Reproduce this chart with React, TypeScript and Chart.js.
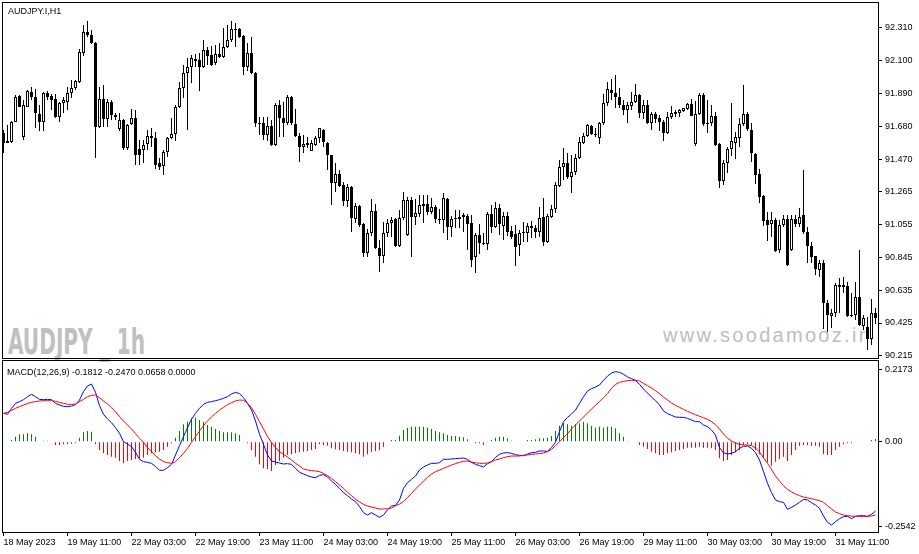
import React, { useEffect, useRef } from "react";
import { Chart, registerables } from "chart.js";

Chart.register(...registerables);

// ---- AUDJPY.I H1 candles (bar 0 = 18 May 2023 19:00) ----
const opens = [
  91.637, 91.573, 91.579, 91.707, 91.873, 91.611, 91.803, 91.898, 91.866, 91.758,
  91.707, 91.892, 91.873, 91.854, 91.739, 91.828, 91.834, 91.892, 91.924, 91.962,
  92.147, 92.281, 92.262, 92.211, 91.675, 91.854, 91.726, 91.834, 91.752, 91.662,
  91.720, 91.541, 91.694, 91.733, 91.535, 91.528, 91.567, 91.618, 91.605, 91.446,
  91.426, 91.516, 91.605, 91.630, 91.803, 91.924, 92.020, 92.058, 92.109, 92.102,
  92.058, 92.166, 92.134, 92.083, 92.141, 92.122, 92.185, 92.230, 92.294, 92.300,
  92.255, 92.058, 92.147, 92.020, 91.694, 91.701, 91.624, 91.681, 91.560, 91.815,
  91.733, 91.701, 91.866, 91.694, 91.618, 91.547, 91.573, 91.522, 91.560, 91.605,
  91.656, 91.573, 91.496, 91.318, 91.375, 91.305, 91.203, 91.292, 91.088, 91.171,
  91.056, 90.871, 90.999, 91.139, 90.903, 90.852, 90.999, 91.063, 91.088, 90.916,
  91.095, 90.986, 91.209, 91.101, 91.120, 91.171, 91.184, 91.133, 91.165, 91.088,
  91.082, 91.216, 91.037, 91.088, 91.088, 91.101, 91.107, 91.063, 90.846, 90.986,
  90.935, 90.929, 91.120, 91.037, 91.158, 91.044, 91.107, 91.012, 90.993, 90.923,
  90.999, 90.999, 91.044, 91.031, 91.005, 91.101, 90.942, 91.101, 91.152, 91.299,
  91.420, 91.446, 91.356, 91.388, 91.477, 91.573, 91.618, 91.681, 91.630, 91.605,
  91.701, 91.828, 91.911, 91.892, 91.866, 91.815, 91.783, 91.809, 91.834, 91.879,
  91.764, 91.815, 91.701, 91.758, 91.733, 91.707, 91.637, 91.739, 91.758, 91.764,
  91.777, 91.790, 91.822, 91.567, 91.758, 91.879, 91.701, 91.701, 91.745, 91.567,
  91.330, 91.446, 91.535, 91.573, 91.605, 91.694, 91.758, 91.656, 91.503, 91.375,
  91.235, 91.082, 91.056, 91.082, 90.891, 91.050, 91.088, 90.891, 91.088, 91.056,
  91.114, 91.005, 90.916, 90.852, 90.763, 90.808, 90.553, 90.470, 90.489, 90.667,
  90.667, 90.661, 90.476, 90.476, 90.591, 90.406, 90.399, 90.323, 90.489,
];
const highs = [
  91.656, 91.688, 91.713, 91.879, 91.879, 91.847, 91.911, 91.930, 91.917, 91.815,
  91.898, 91.905, 91.885, 91.885, 91.834, 91.866, 91.930, 91.975, 91.975, 92.172,
  92.326, 92.351, 92.294, 92.217, 91.930, 91.943, 91.854, 91.847, 91.764, 91.764,
  91.726, 91.694, 91.790, 91.783, 91.592, 91.592, 91.656, 91.669, 91.643, 91.477,
  91.528, 91.611, 91.733, 91.815, 91.962, 92.070, 92.115, 92.134, 92.141, 92.147,
  92.230, 92.185, 92.192, 92.198, 92.211, 92.306, 92.326, 92.351, 92.338, 92.306,
  92.262, 92.211, 92.249, 92.026, 91.739, 91.739, 91.739, 91.720, 91.828, 91.847,
  91.834, 91.879, 91.873, 91.790, 91.637, 91.624, 91.611, 91.592, 91.618, 91.669,
  91.662, 91.579, 91.496, 91.446, 91.401, 91.324, 91.311, 91.299, 91.190, 91.178,
  91.063, 91.024, 91.216, 91.184, 90.954, 91.069, 91.088, 91.101, 91.095, 91.146,
  91.260, 91.228, 91.228, 91.216, 91.241, 91.241, 91.241, 91.222, 91.178, 91.152,
  91.254, 91.222, 91.107, 91.146, 91.146, 91.127, 91.120, 91.114, 90.999, 91.056,
  90.999, 91.133, 91.178, 91.197, 91.184, 91.133, 91.133, 91.044, 91.050, 91.018,
  91.069, 91.063, 91.075, 91.050, 91.165, 91.222, 91.120, 91.178, 91.324, 91.465,
  91.541, 91.509, 91.496, 91.503, 91.611, 91.637, 91.694, 91.688, 91.669, 91.707,
  91.885, 91.962, 91.981, 92.007, 91.924, 91.847, 91.834, 91.898, 91.949, 91.885,
  91.847, 91.847, 91.771, 91.771, 91.752, 91.720, 91.771, 91.809, 91.783, 91.790,
  91.796, 91.828, 91.854, 91.841, 91.892, 91.892, 91.847, 91.815, 91.771, 91.573,
  91.465, 91.547, 91.828, 91.643, 91.733, 91.943, 91.771, 91.701, 91.509, 91.407,
  91.241, 91.133, 91.133, 91.095, 91.082, 91.114, 91.114, 91.114, 91.114, 91.158,
  91.401, 91.037, 90.942, 90.852, 90.827, 90.827, 90.572, 90.514, 90.680, 90.712,
  90.718, 90.687, 90.616, 90.687, 90.891, 90.476, 90.463, 90.578, 90.521,
];
const lows = [
  91.509, 91.573, 91.573, 91.707, 91.803, 91.592, 91.803, 91.847, 91.669, 91.650,
  91.650, 91.847, 91.783, 91.733, 91.707, 91.764, 91.783, 91.860, 91.911, 91.956,
  92.128, 92.249, 92.204, 91.477, 91.669, 91.675, 91.675, 91.720, 91.720, 91.650,
  91.528, 91.528, 91.688, 91.433, 91.433, 91.446, 91.528, 91.547, 91.407, 91.401,
  91.369, 91.484, 91.598, 91.586, 91.796, 91.860, 91.656, 91.956, 92.058, 91.905,
  92.052, 92.070, 92.064, 92.070, 92.115, 92.115, 92.179, 92.217, 92.185, 92.243,
  92.007, 92.032, 92.013, 91.675, 91.624, 91.592, 91.586, 91.554, 91.554, 91.611,
  91.611, 91.688, 91.688, 91.611, 91.452, 91.509, 91.541, 91.522, 91.554, 91.573,
  91.547, 91.401, 91.178, 91.260, 91.292, 91.171, 91.165, 91.005, 91.063, 91.037,
  90.846, 90.846, 90.980, 90.897, 90.750, 90.808, 90.973, 90.973, 90.910, 90.910,
  91.082, 90.980, 90.846, 91.050, 91.101, 91.063, 91.114, 91.120, 91.063, 91.056,
  90.999, 90.954, 90.973, 91.031, 91.031, 91.005, 90.891, 90.782, 90.744, 90.865,
  90.923, 90.891, 90.999, 91.031, 90.986, 90.954, 90.980, 90.961, 90.789, 90.852,
  90.942, 90.942, 90.967, 90.967, 90.973, 90.916, 90.935, 91.095, 91.127, 91.292,
  91.337, 91.343, 91.254, 91.369, 91.471, 91.567, 91.611, 91.624, 91.611, 91.567,
  91.688, 91.809, 91.847, 91.796, 91.796, 91.752, 91.701, 91.783, 91.828, 91.733,
  91.726, 91.694, 91.656, 91.701, 91.650, 91.586, 91.630, 91.726, 91.739, 91.739,
  91.771, 91.783, 91.745, 91.554, 91.752, 91.681, 91.637, 91.681, 91.554, 91.286,
  91.305, 91.382, 91.490, 91.471, 91.547, 91.681, 91.650, 91.452, 91.311, 91.190,
  91.044, 90.948, 90.973, 90.878, 90.871, 91.037, 90.789, 90.884, 91.037, 91.037,
  90.993, 90.808, 90.808, 90.731, 90.718, 90.387, 90.368, 90.393, 90.463, 90.489,
  90.616, 90.463, 90.463, 90.444, 90.406, 90.380, 90.253, 90.285, 90.419,
];
const closes = [
  91.573, 91.586, 91.707, 91.866, 91.803, 91.815, 91.905, 91.866, 91.764, 91.707,
  91.892, 91.866, 91.847, 91.739, 91.828, 91.847, 91.892, 91.924, 91.968, 92.153,
  92.281, 92.262, 92.211, 91.675, 91.854, 91.726, 91.834, 91.752, 91.739, 91.720,
  91.541, 91.688, 91.733, 91.496, 91.496, 91.560, 91.618, 91.605, 91.433, 91.420,
  91.516, 91.605, 91.630, 91.803, 91.924, 92.020, 92.058, 92.115, 92.096, 92.058,
  92.166, 92.128, 92.070, 92.141, 92.122, 92.185, 92.230, 92.300, 92.300, 92.249,
  92.058, 92.147, 92.020, 91.701, 91.701, 91.624, 91.681, 91.560, 91.815, 91.733,
  91.701, 91.866, 91.701, 91.618, 91.547, 91.567, 91.560, 91.573, 91.605, 91.669,
  91.579, 91.496, 91.318, 91.375, 91.299, 91.203, 91.292, 91.095, 91.171, 91.050,
  90.871, 90.999, 91.139, 90.903, 90.852, 90.999, 91.063, 91.082, 90.916, 91.095,
  91.209, 91.209, 91.101, 91.127, 91.178, 91.184, 91.133, 91.165, 91.088, 91.082,
  91.222, 91.037, 91.088, 91.095, 91.101, 91.114, 91.056, 90.827, 90.986, 90.935,
  90.929, 91.120, 91.037, 91.158, 91.056, 91.107, 91.005, 90.973, 90.910, 90.999,
  91.005, 91.044, 91.031, 91.005, 91.095, 90.942, 91.107, 91.152, 91.305, 91.420,
  91.446, 91.356, 91.388, 91.477, 91.579, 91.618, 91.688, 91.630, 91.624, 91.701,
  91.828, 91.917, 91.892, 91.866, 91.815, 91.783, 91.815, 91.834, 91.879, 91.764,
  91.815, 91.701, 91.758, 91.726, 91.707, 91.637, 91.739, 91.764, 91.771, 91.783,
  91.796, 91.822, 91.745, 91.758, 91.879, 91.694, 91.694, 91.745, 91.560, 91.330,
  91.446, 91.535, 91.586, 91.611, 91.694, 91.758, 91.662, 91.509, 91.369, 91.228,
  91.075, 91.050, 91.082, 90.884, 91.050, 91.088, 90.795, 91.088, 91.056, 91.101,
  91.005, 90.916, 90.846, 90.769, 90.808, 90.553, 90.476, 90.489, 90.667, 90.655,
  90.655, 90.470, 90.470, 90.591, 90.412, 90.457, 90.323, 90.489, 90.457,
];

// ---- MACD(12,26,9) ----
const macdMain = [
  0.085, 0.082, 0.100, 0.115, 0.120, 0.126, 0.135, 0.142, 0.135, 0.127,
  0.126, 0.127, 0.126, 0.115, 0.110, 0.106, 0.105, 0.107, 0.111, 0.125,
  0.150, 0.167, 0.173, 0.148, 0.108, 0.082, 0.068, 0.057, 0.042, 0.025,
  0.000, -0.007, -0.015, -0.032, -0.053, -0.060, -0.062, -0.065, -0.074, -0.086,
  -0.086, -0.078, -0.068, -0.040, -0.012, 0.015, 0.042, 0.067, 0.085, 0.100,
  0.112, 0.118, 0.120, 0.123, 0.126, 0.130, 0.135, 0.143, 0.148, 0.144,
  0.132, 0.115, 0.095, 0.062, 0.022, -0.008, -0.040, -0.058, -0.061, -0.064,
  -0.067, -0.066, -0.068, -0.080, -0.092, -0.097, -0.102, -0.106, -0.108, -0.101,
  -0.099, -0.106, -0.118, -0.128, -0.140, -0.153, -0.162, -0.172, -0.180, -0.195,
  -0.213, -0.220, -0.213, -0.220, -0.227, -0.220, -0.204, -0.193, -0.191, -0.175,
  -0.140, -0.123, -0.113, -0.103, -0.085, -0.076, -0.070, -0.065, -0.065, -0.063,
  -0.053, -0.053, -0.052, -0.051, -0.050, -0.049, -0.053, -0.062, -0.068, -0.072,
  -0.076, -0.066, -0.060, -0.047, -0.038, -0.034, -0.033, -0.035, -0.039, -0.041,
  -0.042, -0.037, -0.033, -0.032, -0.028, -0.028, -0.029, -0.017, -0.002, 0.030,
  0.060, 0.073, 0.083, 0.095, 0.115, 0.135, 0.152, 0.159, 0.164, 0.170,
  0.184, 0.197, 0.206, 0.210, 0.208, 0.202, 0.194, 0.189, 0.184, 0.172,
  0.158, 0.146, 0.134, 0.123, 0.110, 0.092, 0.084, 0.079, 0.074, 0.073,
  0.073, 0.070, 0.065, 0.060, 0.060, 0.050, 0.045, 0.035, 0.020, -0.018,
  -0.033, -0.037, -0.035, -0.030, -0.020, -0.014, -0.013, -0.020, -0.033, -0.055,
  -0.090, -0.125, -0.153, -0.175, -0.180, -0.182, -0.203, -0.197, -0.190, -0.182,
  -0.173, -0.175, -0.183, -0.190, -0.200, -0.223, -0.242, -0.250, -0.240, -0.231,
  -0.225, -0.224, -0.231, -0.224, -0.222, -0.222, -0.224, -0.218, -0.208,
];
const macdSignal = [
  0.085, 0.088, 0.094, 0.100, 0.105, 0.110, 0.115, 0.118, 0.120, 0.122,
  0.123, 0.123, 0.123, 0.121, 0.118, 0.115, 0.112, 0.112, 0.113, 0.120,
  0.127, 0.135, 0.139, 0.140, 0.132, 0.122, 0.113, 0.102, 0.090, 0.075,
  0.062, 0.050, 0.038, 0.024, 0.010, -0.002, -0.018, -0.030, -0.042, -0.052,
  -0.060, -0.063, -0.065, -0.060, -0.048, -0.035, -0.020, -0.002, 0.015, 0.032,
  0.048, 0.062, 0.074, 0.085, 0.095, 0.103, 0.111, 0.117, 0.122, 0.125,
  0.124, 0.115, 0.102, 0.082, 0.060, 0.038, 0.015, -0.002, -0.018, -0.030,
  -0.038, -0.046, -0.055, -0.065, -0.073, -0.082, -0.085, -0.087, -0.088, -0.090,
  -0.095, -0.102, -0.110, -0.120, -0.130, -0.140, -0.152, -0.162, -0.172, -0.181,
  -0.188, -0.193, -0.196, -0.199, -0.202, -0.202, -0.201, -0.199, -0.192, -0.187,
  -0.180, -0.168, -0.155, -0.142, -0.130, -0.118, -0.107, -0.097, -0.090, -0.085,
  -0.080, -0.075, -0.070, -0.066, -0.062, -0.059, -0.058, -0.061, -0.063, -0.065,
  -0.065, -0.064, -0.060, -0.055, -0.052, -0.048, -0.045, -0.043, -0.043, -0.043,
  -0.041, -0.040, -0.038, -0.037, -0.036, -0.034, -0.030, -0.023, -0.012, 0.000,
  0.012, 0.024, 0.038, 0.050, 0.062, 0.074, 0.086, 0.098, 0.109, 0.120,
  0.132, 0.144, 0.160, 0.172, 0.178, 0.181, 0.183, 0.184, 0.184, 0.182,
  0.175, 0.168, 0.161, 0.153, 0.144, 0.134, 0.125, 0.116, 0.109, 0.103,
  0.097, 0.091, 0.086, 0.081, 0.076, 0.072, 0.067, 0.060, 0.051, 0.038,
  0.023, 0.010, 0.002, -0.004, -0.008, -0.010, -0.010, -0.012, -0.019, -0.031,
  -0.048, -0.065, -0.083, -0.103, -0.118, -0.132, -0.143, -0.151, -0.157, -0.162,
  -0.166, -0.169, -0.171, -0.174, -0.177, -0.182, -0.192, -0.202, -0.211, -0.216,
  -0.220, -0.222, -0.223, -0.224, -0.224, -0.224, -0.224, -0.223, -0.220,
];
const macdHist = [
  -0.002, -0.002, 0.005, 0.015, 0.022, 0.022, 0.025, 0.022, 0.015, 0.000,
  0.003, 0.003, 0.000, -0.010, -0.010, -0.008, -0.008, -0.006, -0.004, 0.012,
  0.028, 0.032, 0.030, -0.008, -0.025, -0.035, -0.040, -0.045, -0.048, -0.058,
  -0.065, -0.058, -0.055, -0.052, -0.050, -0.048, -0.040, -0.035, -0.032, -0.030,
  -0.025, -0.015, -0.005, 0.012, 0.032, 0.052, 0.060, 0.070, 0.072, 0.065,
  0.060, 0.050, 0.045, 0.038, 0.032, 0.028, 0.028, 0.028, 0.025, 0.020,
  0.000, -0.005, -0.025, -0.045, -0.068, -0.080, -0.082, -0.088, -0.070, -0.058,
  -0.048, -0.040, -0.038, -0.035, -0.032, -0.030, -0.028, -0.025, -0.022, -0.008,
  -0.010, -0.012, -0.020, -0.023, -0.025, -0.028, -0.030, -0.032, -0.035, -0.038,
  -0.045, -0.038, -0.030, -0.028, -0.026, -0.015, -0.002, 0.005, 0.005, 0.018,
  0.035, 0.042, 0.045, 0.045, 0.045, 0.045, 0.042, 0.038, 0.032, 0.028,
  0.025, 0.020, 0.018, 0.017, 0.015, 0.013, 0.007, -0.002, -0.005, -0.005,
  -0.010, 0.002, 0.005, 0.012, 0.015, 0.015, 0.010, 0.003, 0.000, 0.000,
  0.000, 0.005, 0.005, 0.007, 0.010, 0.010, 0.012, 0.017, 0.032, 0.048,
  0.055, 0.052, 0.048, 0.052, 0.055, 0.060, 0.055, 0.047, 0.042, 0.045,
  0.042, 0.045, 0.045, 0.040, 0.025, 0.015, 0.002, 0.000, 0.000, -0.010,
  -0.015, -0.022, -0.030, -0.035, -0.040, -0.040, -0.035, -0.032, -0.028, -0.025,
  -0.022, -0.018, -0.018, -0.018, -0.015, -0.018, -0.018, -0.020, -0.025, -0.050,
  -0.058, -0.055, -0.040, -0.032, -0.025, -0.010, -0.008, -0.010, -0.025, -0.038,
  -0.050, -0.062, -0.072, -0.060, -0.052, -0.045, -0.058, -0.040, -0.025, -0.012,
  -0.010, -0.010, -0.012, -0.012, -0.015, -0.038, -0.040, -0.040, -0.025, -0.015,
  -0.008, -0.005, -0.005, 0.000, -0.002, 0.000, 0.000, 0.005, 0.008,
];

// ---- axis labels ----
const timeLabels = [
  "18 May 2023", "19 May 11:00", "22 May 03:00", "22 May 19:00", "23 May 11:00",
  "24 May 03:00", "24 May 19:00", "25 May 11:00", "26 May 03:00", "26 May 19:00",
  "29 May 11:00", "30 May 03:00", "30 May 19:00", "31 May 11:00",
];
const LABEL_STEP = 16;
const priceTicks = [92.31, 92.1, 91.89, 91.68, 91.47, 91.265, 91.055, 90.845, 90.635, 90.425, 90.215];
const macdTicks = [0.2173, 0, -0.2542];
const macdTickLabels = ["0.2173", "0.00", "-0.2542"];

const X_MIN = -0.375;
const X_MAX = 218.875;
const FONT = "'Liberation Sans', Arial, sans-serif";

const paneBorder = {
  id: "paneBorder",
  afterDraw(chart: any) {
    const { ctx, chartArea: a } = chart;
    ctx.save();
    ctx.strokeStyle = "#000";
    ctx.lineWidth = 1;
    ctx.strokeRect(a.left + 0.5, a.top + 0.5, a.right - a.left - 1, a.bottom - a.top - 1);
    ctx.restore();
  },
};

export default function App() {
  const priceRef = useRef<HTMLCanvasElement>(null);
  const macdRef = useRef<HTMLCanvasElement>(null);
  const wmRef = useRef<HTMLSpanElement>(null);

  useEffect(() => {
    Chart.defaults.font.family = FONT;
    Chart.defaults.color = "#000";
    const idx = closes.map((_, i) => i);
    const tickFont = { family: FONT, size: 9 };

    const price = new Chart(priceRef.current as HTMLCanvasElement, {
      type: "bar",
      data: {
        datasets: [
          {
            label: "body",
            data: idx.map((i) => ({ x: i, y: [opens[i], closes[i]] })) as any,
            backgroundColor: idx.map((i) => (closes[i] > opens[i] ? "#ffffff" : "#000000")),
            borderColor: "#000000",
            borderWidth: 1,
            borderSkipped: false,
            barThickness: 3,
            grouped: false,
            minBarLength: 1,
            inflateAmount: 0,
          } as any,
          {
            label: "wick",
            data: idx.map((i) => ({ x: i, y: [lows[i], highs[i]] })) as any,
            backgroundColor: "#000000",
            borderWidth: 0,
            barThickness: 1,
            grouped: false,
            inflateAmount: 0,
          } as any,
        ],
      },
      options: {
        responsive: false,
        animation: false,
        events: [],
        layout: { padding: { left: 2, top: 2, right: 0, bottom: 1 } },
        plugins: { legend: { display: false }, tooltip: { enabled: false } },
        scales: {
          x: { type: "linear", min: X_MIN, max: X_MAX, display: false, offset: false, grid: { offset: false } },
          y: {
            type: "linear",
            position: "right",
            min: 90.1955,
            max: 92.4722,
            beginAtZero: false,
            afterBuildTicks: (s: any) => {
              s.ticks = priceTicks.map((v) => ({ value: v }));
            },
            afterFit: (s: any) => {
              s.width = 40;
              s.paddingTop = 0;
              s.paddingBottom = 0;
            },
            ticks: {
              callback: (v: any) => Number(v).toFixed(3),
              font: tickFont,
              color: "#000",
              padding: 3,
              autoSkip: false,
            },
            grid: { drawOnChartArea: false, tickLength: 3, color: "#000" },
            border: { display: false },
          },
        },
      } as any,
      plugins: [paneBorder],
    });

    const macd = new Chart(macdRef.current as HTMLCanvasElement, {
      type: "bar",
      data: {
        datasets: [
          {
            type: "line",
            label: "signal",
            data: macdSignal.map((v, i) => ({ x: i, y: v })),
            borderColor: "#ff0000",
            borderWidth: 1,
            pointRadius: 0,
            tension: 0,
            fill: false,
          } as any,
          {
            type: "line",
            label: "main",
            data: macdMain.map((v, i) => ({ x: i, y: v })),
            borderColor: "#0000ff",
            borderWidth: 1,
            pointRadius: 0,
            tension: 0,
            fill: false,
          } as any,
          {
            type: "bar",
            label: "hist",
            data: macdHist.map((v, i) => ({ x: i, y: v })),
            backgroundColor: macdHist.map((v) => (v >= 0 ? "#008000" : "#ff0000")),
            borderWidth: 0,
            barThickness: 1,
            grouped: false,
            inflateAmount: 0,
          } as any,
        ],
      },
      options: {
        responsive: false,
        animation: false,
        events: [],
        layout: { padding: { left: 2, top: 0, right: 0, bottom: 0 } },
        plugins: { legend: { display: false }, tooltip: { enabled: false } },
        scales: {
          x: {
            type: "linear",
            position: "bottom",
            min: X_MIN,
            max: X_MAX,
            offset: false,
            afterBuildTicks: (s: any) => {
              s.ticks = timeLabels.map((_, k) => ({ value: k * LABEL_STEP }));
            },
            afterFit: (s: any) => {
              s.height = 21;
              s.paddingLeft = 0;
              s.paddingRight = 0;
            },
            ticks: {
              callback: (v: any) => timeLabels[Math.round(Number(v) / LABEL_STEP)] ?? "",
              autoSkip: false,
              maxRotation: 0,
              minRotation: 0,
              align: "start",
              padding: 1,
              font: tickFont,
              color: "#000",
            },
            grid: { drawOnChartArea: false, tickLength: 3, color: "#000", offset: false },
            border: { display: false },
          },
          y: {
            type: "linear",
            position: "right",
            min: -0.274,
            max: 0.245,
            beginAtZero: false,
            afterBuildTicks: (s: any) => {
              s.ticks = macdTicks.map((v) => ({ value: v }));
            },
            afterFit: (s: any) => {
              s.width = 40;
              s.paddingTop = 0;
              s.paddingBottom = 0;
            },
            ticks: {
              callback: (_v: any, i: number) => macdTickLabels[i] ?? "",
              font: tickFont,
              color: "#000",
              padding: 3,
              autoSkip: false,
            },
            grid: { drawOnChartArea: false, tickLength: 3, color: "#000" },
            border: { display: false },
          },
        },
      } as any,
      plugins: [paneBorder],
    });

    const wm = wmRef.current;
    if (wm) {
      wm.style.transform = "none";
      const w = wm.getBoundingClientRect().width;
      if (w > 0) wm.style.transform = `scaleX(${137 / w})`;
    }

    return () => {
      price.destroy();
      macd.destroy();
    };
  }, []);

  const small: React.CSSProperties = {
    position: "absolute",
    fontFamily: FONT,
    fontSize: 9,
    lineHeight: "9px",
    color: "#000",
    whiteSpace: "pre",
  };

  return (
    <div
      style={{
        position: "fixed",
        left: 0,
        top: 0,
        width: 919,
        height: 554,
        background: "#ffffff",
        overflow: "hidden",
      }}
    >
      <span
        ref={wmRef}
        style={{
          position: "absolute",
          left: 8,
          top: 324,
          display: "inline-block",
          fontFamily: "'Liberation Sans Narrow', 'DejaVu Sans Condensed', 'Liberation Sans', sans-serif",
          fontWeight: "bold",
          fontSize: 36,
          lineHeight: "36px",
          color: "#c0c0c0",
          whiteSpace: "pre",
          transformOrigin: "left top",
        }}
      >
        AUDJPY _ 1h
      </span>
      <div
        style={{
          position: "absolute",
          left: 663,
          top: 325,
          fontFamily: FONT,
          fontSize: 20,
          lineHeight: "20px",
          letterSpacing: "2.3px",
          color: "#bdbdbd",
          whiteSpace: "pre",
        }}
      >
        www.soodamooz.ir
      </div>
      <canvas
        ref={priceRef}
        width={919}
        height={360}
        style={{ position: "absolute", left: 0, top: 0, width: 919, height: 360, display: "block" }}
      />
      <canvas
        ref={macdRef}
        width={919}
        height={194}
        style={{ position: "absolute", left: 0, top: 360, width: 919, height: 194, display: "block" }}
      />
      <div style={{ ...small, left: 8, top: 7 }}>AUDJPY.I,H1</div>
      <div style={{ ...small, left: 7, top: 368 }}>MACD(12,26,9) -0.1812 -0.2470 0.0658 0.0000</div>
    </div>
  );
}
